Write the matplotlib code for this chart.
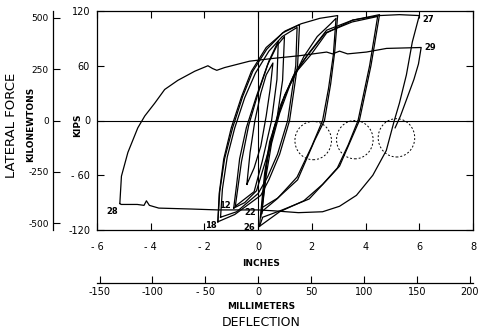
import matplotlib
matplotlib.use("Agg")
import matplotlib.pyplot as plt
from matplotlib.patches import Ellipse

# deflection in inches, lateral force in kips
spindle_x = [-0.42, -0.3, -0.12, 0.1, 0.3, 0.55, 0.45, 0.3, 0.1, -0.15, -0.42]
spindle_y = [-70, -35, 0, 30, 50, 63, 35, 5, -28, -52, -70]

loop12_x = [-0.91, -0.8, -0.69, -0.44, -0.07, 0.35, 0.7, 0.98, 0.91, 0.69, 0.3, -0.06, -0.5, -0.91]
loop12_y = [-96, -70, -42, -8, 26, 61, 82, 92, 44, 0, -42, -77, -90, -96]
loop12b_x = [-0.85, -0.62, -0.35, 0.0, 0.4, 0.75, 0.7, 0.5, 0.15, -0.15, -0.85]
loop12b_y = [-94, -45, -5, 30, 65, 87, 45, 0, -45, -78, -94]

loop18_x = [-1.5, -1.43, -1.25, -0.95, -0.58, -0.2, 0.32, 0.91, 1.54, 1.47, 1.17, 0.8, 0.4, 0.1, -0.87, -1.5]
loop18_y = [-111, -78, -42, -8, 26, 54, 78, 96, 105, 61, 0, -37, -65, -82, -103, -111]
loop18b_x = [-1.4, -1.33, -1.15, -0.87, -0.5, -0.1, 0.4, 0.9, 1.45, 1.4, 1.1, 0.72, 0.35, 0.0, -0.8, -1.4]
loop18b_y = [-106, -75, -40, -8, 25, 52, 76, 92, 102, 60, 0, -37, -62, -80, -100, -106]

loop22_x = [-1.5, -1.45, -1.28, -1.0, -0.62, -0.25, 0.3, 1.0, 1.6, 2.3, 2.96,
            2.85, 2.7, 2.47, 2.1, 1.47, 0.73, 0.17, 0.13]
loop22_y = [-111, -80, -42, -8, 26, 54, 80, 98, 106, 112, 115,
            75, 40, 0, -22, -65, -85, -95, -102]
loop22b_x = [0.13, 0.3, 0.5, 0.8, 1.2, 1.7, 2.2, 2.7, 2.9, 2.8, 2.62, 2.4, 2.0, 1.45, 0.7, 0.13]
loop22b_y = [-102, -60, -25, 8, 40, 70, 92, 106, 112, 72, 35, 0, -28, -62, -86, -100]

loop26_x = [0.13, 0.35, 0.61, 0.91, 1.36, 1.84, 2.55, 3.52, 4.52,
            4.2, 3.77, 3.4, 3.03, 2.66, 1.9, 0.9, 0.17, 0.05]
loop26_y = [-102, -40, -7, 21, 52, 72, 99, 110, 116,
            60, 0, -25, -50, -62, -86, -98, -106, -116]
loop26b_x = [0.1, 0.3, 0.55, 0.85, 1.3, 1.8, 2.5, 3.5, 4.45,
             4.15, 3.72, 3.35, 2.95, 2.4, 1.7, 0.8, 0.05]
loop26b_y = [-106, -50, -12, 18, 48, 70, 96, 108, 114,
             60, 0, -27, -52, -70, -88, -100, -116]

load27_x = [0.05, 0.24, 0.43, 0.69, 0.99, 1.47, 1.99, 2.55, 3.52, 4.52, 5.26, 6.0]
load27_y = [-116, -58, -23, 0, 28, 55, 73, 96, 110, 115, 116, 115]

unload28_x = [6.0, 5.74, 5.52, 5.26, 5.07, 4.77, 4.27, 3.66, 3.03, 2.4, 1.5, 0.6, 0.0,
              -0.7, -1.5, -2.5, -3.7, -4.05, -4.16, -4.25, -4.5, -5.1, -5.15]
unload28_y = [115, 86, 50, 19, 0, -33, -60, -82, -94, -100, -101, -99, -98,
              -98, -98, -97, -96, -93, -88, -93, -92, -92, -91]

load29_x = [-5.15, -5.09, -4.85, -4.48, -4.22, -3.85, -3.48, -2.99, -2.36, -1.87, -1.7,
            -1.54, -1.25, -0.32, 0.54, 1.54, 2.55, 2.77, 3.03, 3.33, 4.03, 4.78, 6.07,
            5.97, 5.8, 5.55, 5.3, 5.1]
load29_y = [-91, -61, -35, -8, 5, 19, 34, 44, 54, 60, 57,
            55, 58, 65, 68, 71, 75, 73, 76, 73, 75, 79, 80,
            62, 45, 25, 5, -8]

curves = [
    (spindle_x, spindle_y), (loop12_x, loop12_y), (loop12b_x, loop12b_y),
    (loop18_x, loop18_y), (loop18b_x, loop18b_y),
    (loop22_x, loop22_y), (loop22b_x, loop22b_y),
    (loop26_x, loop26_y), (loop26b_x, loop26b_y),
    (load27_x, load27_y), (unload28_x, unload28_y), (load29_x, load29_y),
]

# cycle numbers written at the peaks
peak_labels = ["27", "29", "28", "18", "12", "22", "26"]
peak_x = [6.0, 6.07, -5.15, -1.5, -0.91, 0.13, 0.05]
peak_y = [115, 80, -91, -111, -96, -102, -116]
peak_offsets = [(2, -3), (2, 0), (-1, -6), (-1, -3), (-2, 2), (-4, 1), (-3, -1)]
peak_ha = ["left", "left", "right", "right", "right", "right", "right"]

# dashed circles below the zero line
circle_x = [2.05, 3.6, 5.15]
circle_y = [-22, -21, -19]

x_ticks = [-6, -4, -2, 0, 2, 4, 6, 8]
x_tick_labels = ["- 6", "- 4", "- 2", "0", "2", "4", "6", "8"]
y_ticks = [-120, -60, 0, 60, 120]
y_tick_labels = ["-120", "- 60", "0", "60", "120"]
kn_ticks = [-500, -250, 0, 250, 500]
kn_tick_labels = ["-500", "-250", "0", "250", "500"]
mm_ticks = [-150, -100, -50, 0, 50, 100, 150, 200]
mm_tick_labels = ["-150", "-100", "- 50", "0", "50", "100", "150", "200"]

KN_PER_KIP = 4.448
MM_PER_INCH = 25.4


def main() -> None:
    fig = plt.figure(figsize=(4.82, 3.31), dpi=100)
    ax = fig.add_axes([97 / 482, 101 / 331, 376 / 482, 219 / 331])

    for xs, ys in curves:
        ax.plot(xs, ys, color="black", lw=0.9)

    for cx, cy in zip(circle_x, circle_y):
        ax.add_patch(Ellipse((cx, cy), 1.36, 42, fill=False, ls=(0, (2, 2)),
                             lw=0.7, color="black"))

    for txt, px, py, off, ha in zip(peak_labels, peak_x, peak_y, peak_offsets, peak_ha):
        ax.annotate(txt, xy=(px, py), xytext=off, textcoords="offset points",
                    ha=ha, va="center", fontsize=6, fontweight="bold")

    ax.axhline(0, color="black", lw=0.8)
    ax.axvline(0, color="black", lw=0.8)

    ax.set_xlim(-6, 8)
    ax.set_ylim(-120, 120)
    ax.set_xticks(x_ticks, x_tick_labels)
    ax.set_yticks(y_ticks, y_tick_labels)
    ax.tick_params(direction="in", length=5, width=0.8, top=True, right=True,
                   labelsize=7)
    ax.tick_params(axis="x", pad=9)
    ax.tick_params(axis="y", pad=5)
    for sp in ax.spines.values():
        sp.set_linewidth(0.9)

    kn = ax.secondary_yaxis(-44 / 376, functions=(lambda k: k * KN_PER_KIP,
                                                  lambda n: n / KN_PER_KIP))
    kn.set_yticks(kn_ticks, kn_tick_labels)
    kn.tick_params(direction="in", length=5, width=0.8, labelsize=6.5, pad=3)
    kn.spines["left"].set_linewidth(0.9)

    mm = ax.secondary_xaxis(-53 / 219, functions=(lambda i: i * MM_PER_INCH,
                                                   lambda m: m / MM_PER_INCH))
    mm.set_xticks(mm_ticks, mm_tick_labels)
    mm.tick_params(direction="in", length=5, width=0.8, labelsize=7, pad=3)
    mm.spines["bottom"].set_linewidth(0.9)

    fig.text(0.024, 0.62, "LATERAL FORCE", rotation=90, ha="center", va="center", fontsize=9.5)
    fig.text(0.063, 0.625, "KILONEWTONS", rotation=90, ha="center", va="center",
             fontsize=6.5, fontweight="bold")
    fig.text(0.162, 0.622, "KIPS", rotation=90, ha="center", va="center",
             fontsize=6.5, fontweight="bold")
    fig.text(0.541, 0.205, "INCHES", ha="center", va="center", fontsize=6.5, fontweight="bold")
    fig.text(0.541, 0.073, "MILLIMETERS", ha="center", va="center", fontsize=6.5, fontweight="bold")
    fig.text(0.541, 0.027, "DEFLECTION", ha="center", va="center", fontsize=9)

    fig.savefig("out.png", dpi=100)


if __name__ == "__main__":
    main()
